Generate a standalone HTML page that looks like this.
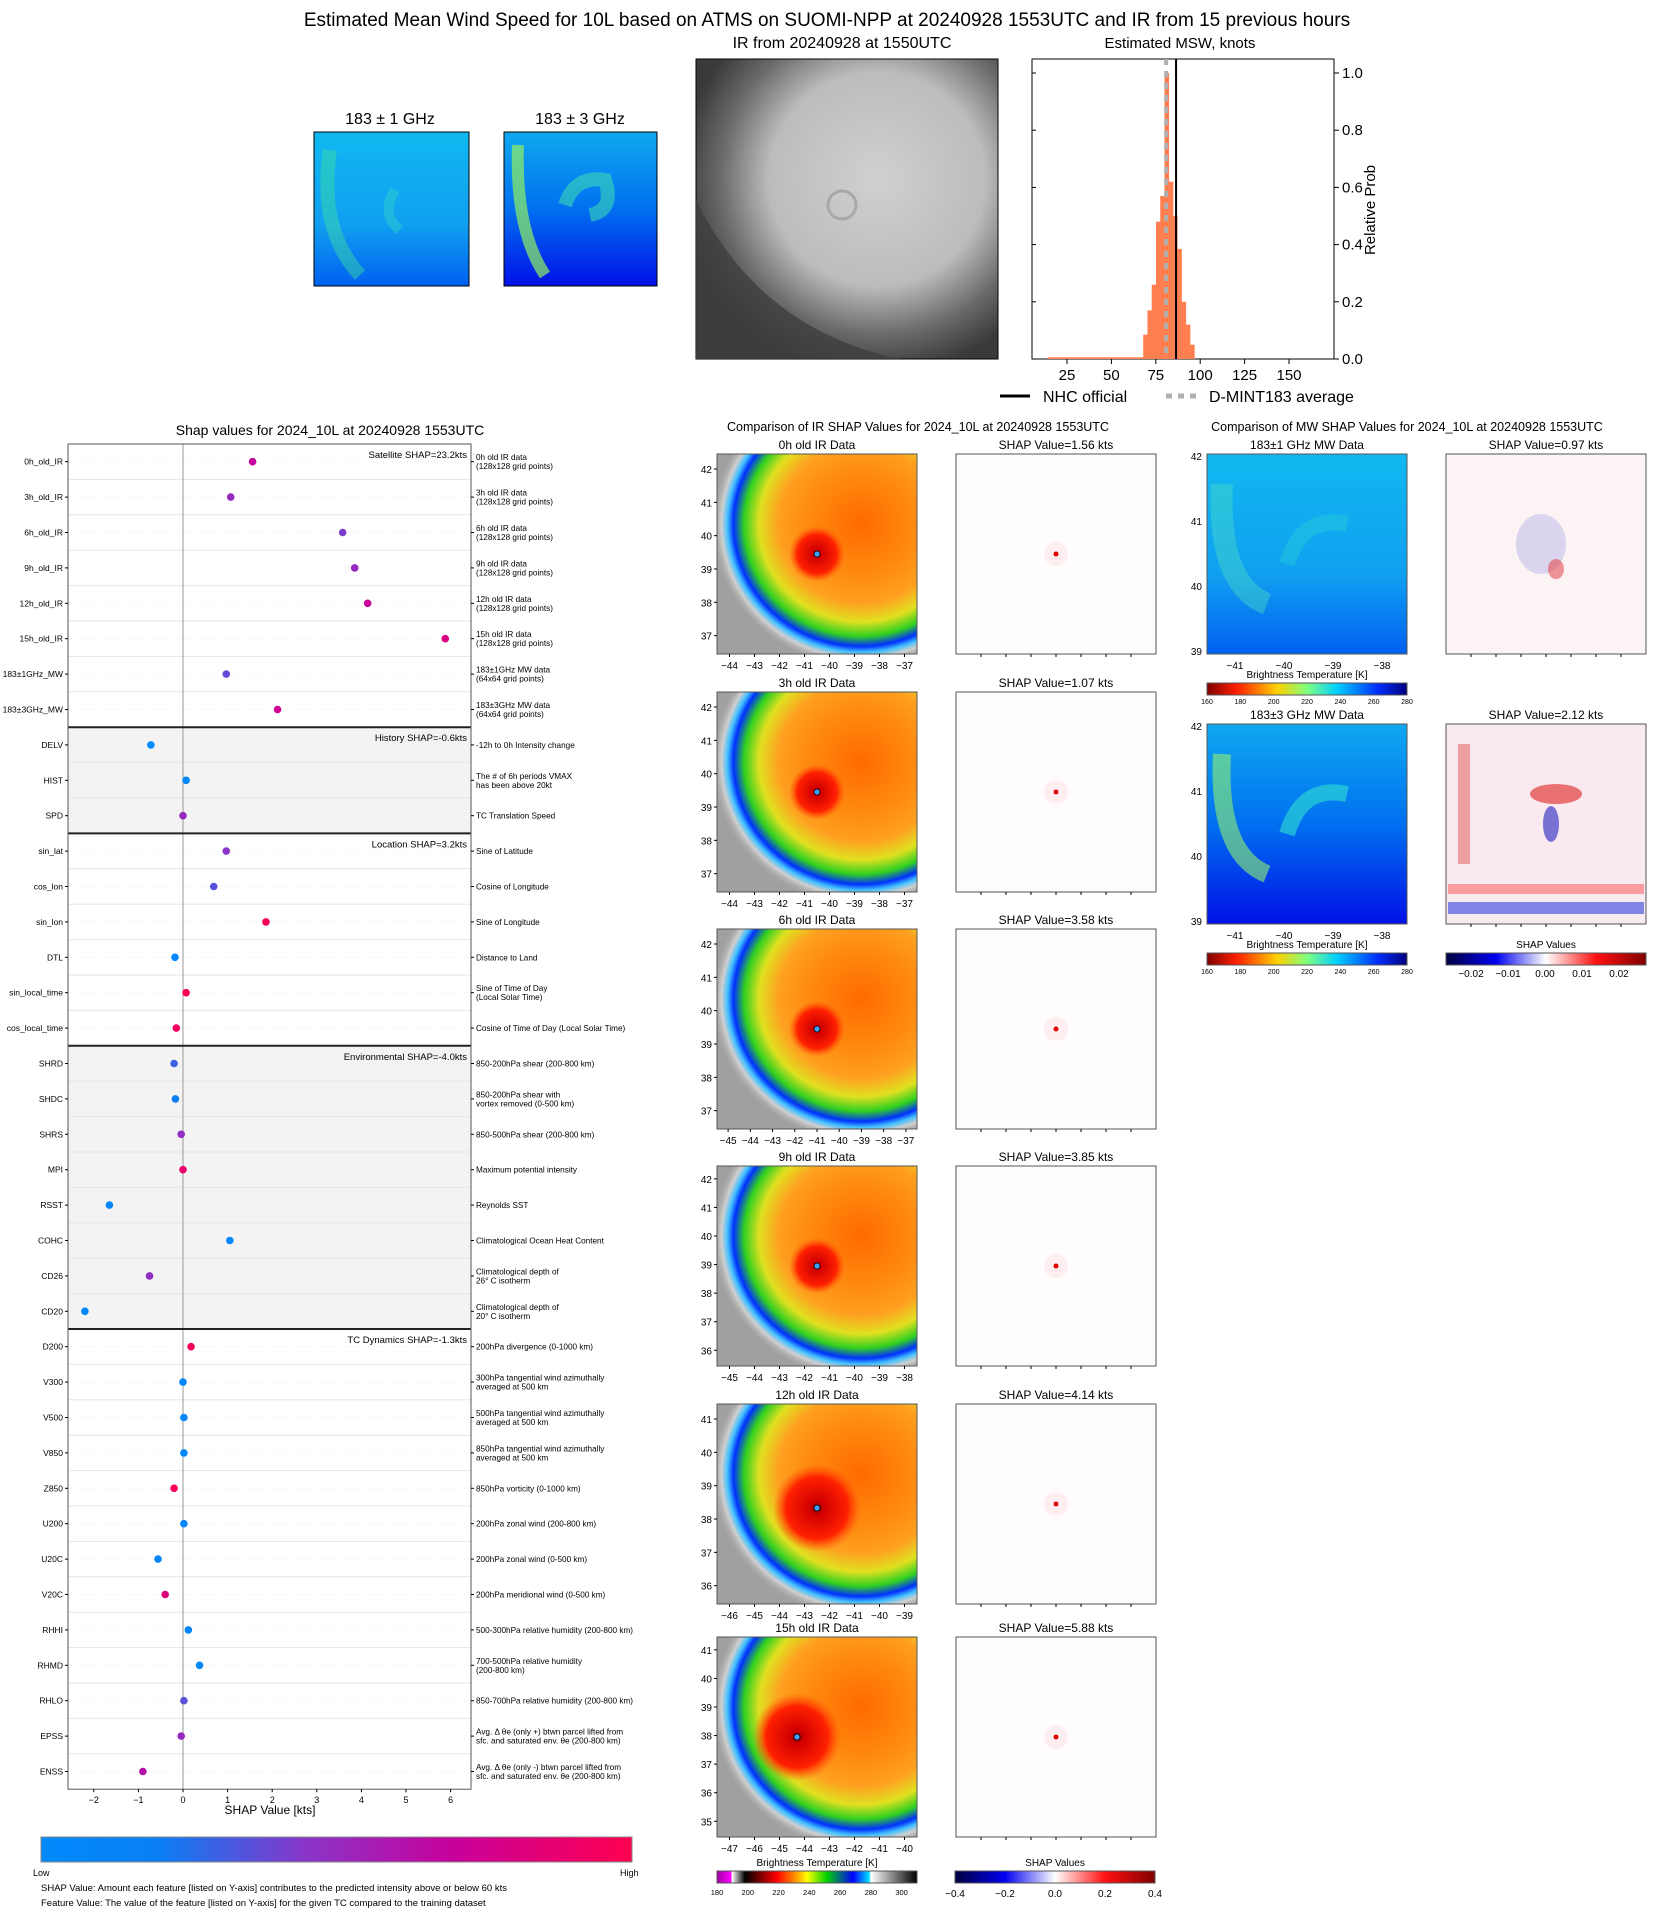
<!DOCTYPE html>
<html><head><meta charset="utf-8"><style>
html,body{margin:0;padding:0;background:#fff;}
svg{display:block;font-family:"Liberation Sans","DejaVu Sans",sans-serif;}
</style></head><body>
<svg id="root" width="1655" height="1912" viewBox="0 0 1655 1912" xmlns="http://www.w3.org/2000/svg">
<defs>
  <radialGradient id="irg" cx="0.5" cy="0.5" r="0.5">
    <stop offset="0" stop-color="#ff6a00"/><stop offset="0.35" stop-color="#ff8a10"/>
    <stop offset="0.55" stop-color="#ffa020"/><stop offset="0.68" stop-color="#e0e020"/>
    <stop offset="0.78" stop-color="#30d020"/><stop offset="0.85" stop-color="#0030ff"/>
    <stop offset="0.89" stop-color="#40c0ff"/><stop offset="0.93" stop-color="#d0d0d0"/>
    <stop offset="1" stop-color="#a0a0a0" stop-opacity="0"/>
  </radialGradient>
  <radialGradient id="core" cx="0.5" cy="0.5" r="0.5">
    <stop offset="0" stop-color="#600000"/><stop offset="0.15" stop-color="#d00000"/>
    <stop offset="0.7" stop-color="#ff2000"/><stop offset="1" stop-color="#ff5000" stop-opacity="0"/>
  </radialGradient>
  <radialGradient id="bigir" cx="0.6" cy="0.4" r="0.65">
    <stop offset="0" stop-color="#d0d0d0"/><stop offset="0.55" stop-color="#bcbcbc"/>
    <stop offset="0.8" stop-color="#6a6a6a"/><stop offset="1" stop-color="#3a3a3a"/>
  </radialGradient>
  <linearGradient id="mw1" x1="0" y1="0" x2="0" y2="1">
    <stop offset="0" stop-color="#10b8f0"/><stop offset="0.6" stop-color="#10a0f0"/><stop offset="1" stop-color="#0060f0"/>
  </linearGradient>
  <linearGradient id="mw3" x1="0" y1="0" x2="0" y2="1">
    <stop offset="0" stop-color="#10a8f0"/><stop offset="0.5" stop-color="#0070f0"/><stop offset="1" stop-color="#0010e8"/>
  </linearGradient>
  <linearGradient id="jet" x1="0" x2="1">
    <stop offset="0" stop-color="#800000"/><stop offset="0.15" stop-color="#ff2000"/><stop offset="0.35" stop-color="#ffd000"/>
    <stop offset="0.5" stop-color="#80ff80"/><stop offset="0.65" stop-color="#00d0ff"/><stop offset="0.85" stop-color="#0030ff"/><stop offset="1" stop-color="#000080"/>
  </linearGradient>
  <linearGradient id="seis" x1="0" x2="1">
    <stop offset="0" stop-color="#000040"/><stop offset="0.25" stop-color="#0000f0"/><stop offset="0.5" stop-color="#ffffff"/>
    <stop offset="0.75" stop-color="#ff1010"/><stop offset="1" stop-color="#800000"/>
  </linearGradient>
  <linearGradient id="irc" x1="0" x2="1">
    <stop offset="0" stop-color="#a000a0"/><stop offset="0.07" stop-color="#ff00ff"/><stop offset="0.075" stop-color="#ffffff"/>
    <stop offset="0.14" stop-color="#000000"/><stop offset="0.3" stop-color="#ff0000"/><stop offset="0.4" stop-color="#ffa000"/>
    <stop offset="0.45" stop-color="#ffff00"/><stop offset="0.55" stop-color="#00d000"/><stop offset="0.68" stop-color="#0000ff"/>
    <stop offset="0.76" stop-color="#00e0ff"/><stop offset="0.77" stop-color="#ffffff"/><stop offset="1" stop-color="#000000"/>
  </linearGradient>
  <linearGradient id="feat" x1="0" x2="1">
    <stop offset="0" stop-color="#008afb"/><stop offset="0.2" stop-color="#0a7ef5"/><stop offset="0.45" stop-color="#8a35c8"/>
    <stop offset="0.7" stop-color="#c8009a"/><stop offset="1" stop-color="#ff0050"/>
  </linearGradient>
</defs>

<text x="827" y="26" font-size="19" text-anchor="middle">Estimated Mean Wind Speed for 10L based on ATMS on SUOMI-NPP at 20240928 1553UTC and IR from 15 previous hours</text>

<g>
<text x="390" y="124" font-size="16" text-anchor="middle">183 ± 1 GHz</text>
<rect x="314" y="132" width="155" height="154" fill="url(#mw1)" stroke="#000"/>
<path d="M330 150 Q318 230 360 275" stroke="#40e0a0" stroke-width="14" fill="none" opacity="0.45"/>
<path d="M395 190 Q380 215 400 230" stroke="#40e0c0" stroke-width="10" fill="none" opacity="0.35"/>
</g>
<g>
<text x="580" y="124" font-size="16" text-anchor="middle">183 ± 3 GHz</text>
<rect x="504" y="132" width="153" height="154" fill="url(#mw3)" stroke="#000"/>
<path d="M518 145 Q515 230 545 275" stroke="#90f060" stroke-width="12" fill="none" opacity="0.7"/>
<path d="M565 205 Q575 175 605 180 Q615 210 590 215" stroke="#40e0b0" stroke-width="14" fill="none" opacity="0.55"/>
</g>
<g>
<text x="842" y="48" font-size="16" text-anchor="middle">IR from 20240928 at 1550UTC</text>
<rect x="696" y="59" width="302" height="300" fill="url(#bigir)" stroke="#000"/>
<path d="M696 200 Q760 330 900 359 L696 359 Z" fill="#3e3e3e" opacity="0.8"/>
<circle cx="842" cy="205" r="14" fill="none" stroke="#a8a8a8" stroke-width="3"/>
</g>

<g id="hist"></g>
<g id="shap"></g>

<text x="918" y="431" font-size="12.5" text-anchor="middle">Comparison of IR SHAP Values for 2024_10L at 20240928 1553UTC</text>
<text x="1407" y="431" font-size="12.5" text-anchor="middle">Comparison of MW SHAP Values for 2024_10L at 20240928 1553UTC</text>
<g id="irpanels"></g>
<g id="mwpanels"></g>
</svg>
<script>
const NS='http://www.w3.org/2000/svg';
function el(tag,attrs,parent,txt){const e=document.createElementNS(NS,tag);for(const k in attrs)e.setAttribute(k,attrs[k]);if(txt!==undefined)e.textContent=txt;parent.appendChild(e);return e;}

/* ---------- histogram data ---------- */
const histBinStart=67.9;
const histBinWidth=2.4;
const histHeights=[0.085,0.17,0.26,0.48,0.57,1.0,0.62,0.5,0.385,0.2,0.12,0.05];
const histTail=[14,67.9,0.006];
const nhcOfficial=86.4;
const dmintAverage=80.8;
const histXTicks=[25,50,75,100,125,150];
const histYTicks=[0,0.2,0.4,0.6,0.8,1.0];

const H=document.getElementById('hist');
const hx=v=>1022.6+v*1.776, hy=p=>359-p*286;
el('text',{x:1180,y:48,'font-size':15,'text-anchor':'middle'},H,'Estimated MSW, knots');
el('rect',{x:1032,y:59,width:302,height:300,fill:'#fff',stroke:'#000'},H);
const tail=el('rect',{x:hx(histTail[0]),y:hy(histTail[2]),width:hx(histTail[1])-hx(histTail[0]),height:359-hy(histTail[2]),fill:'#ff7f50'},H);


histHeights.forEach((h,i)=>{
  const r=el('rect',{x:hx(histBinStart+i*histBinWidth),y:hy(h),width:histBinWidth*1.776+0.3,height:359-hy(h),fill:'#ff7f50'},H);
  
  
});
const avg=el('line',{x1:hx(dmintAverage),x2:hx(dmintAverage),y1:59,y2:359,stroke:'#b0b0b0','stroke-width':4,'stroke-dasharray':'6,6'},H);


const nhc=el('line',{x1:hx(nhcOfficial),x2:hx(nhcOfficial),y1:59,y2:359,stroke:'#000','stroke-width':2},H);


histXTicks.forEach(t=>{el('line',{x1:hx(t),x2:hx(t),y1:359,y2:364,stroke:'#000'},H);
  const tx=el('text',{x:hx(t),y:380,'font-size':15,'text-anchor':'middle'},H,String(t));
  
  });
histYTicks.forEach(t=>{el('line',{x1:1334,x2:1339,y1:hy(t),y2:hy(t),stroke:'#000'},H);
  el('line',{x1:1032,x2:1036,y1:hy(t),y2:hy(t),stroke:'#000'},H);
  const tx=el('text',{x:1342,y:hy(t)+5,'font-size':15},H,t.toFixed(1));
  
  });
el('text',{x:1375,y:210,'font-size':15,'text-anchor':'middle',transform:'rotate(-90 1375 210)'},H,'Relative Prob');
el('line',{x1:1000,x2:1030,y1:396,y2:396,stroke:'#000','stroke-width':3},H);
el('text',{x:1043,y:402,'font-size':16},H,'NHC official');
el('line',{x1:1166,x2:1196,y1:396,y2:396,stroke:'#b0b0b0','stroke-width':5,'stroke-dasharray':'6,6'},H);
el('text',{x:1209,y:402,'font-size':16},H,'D-MINT183 average');

/* ---------- shap data ---------- */
const featNames=['0h_old_IR','3h_old_IR','6h_old_IR','9h_old_IR','12h_old_IR','15h_old_IR','183±1GHz_MW','183±3GHz_MW','DELV','HIST','SPD','sin_lat','cos_lon','sin_lon','DTL','sin_local_time','cos_local_time','SHRD','SHDC','SHRS','MPI','RSST','COHC','CD26','CD20','D200','V300','V500','V850','Z850','U200','U20C','V20C','RHHI','RHMD','RHLO','EPSS','ENSS'];
const shapValues=[1.56,1.07,3.58,3.85,4.14,5.88,0.97,2.12,-0.72,0.07,0.0,0.97,0.69,1.86,-0.18,0.07,-0.15,-0.2,-0.17,-0.04,0.0,-1.65,1.05,-0.75,-2.2,0.18,0.0,0.02,0.02,-0.2,0.02,-0.56,-0.4,0.12,0.37,0.02,-0.04,-0.9];
const featureValues=[0.68,0.5,0.42,0.5,0.7,0.8,0.38,0.75,0.0,0.02,0.5,0.45,0.35,0.95,0.05,1.0,0.95,0.3,0.18,0.48,0.9,0.05,0.08,0.48,0.05,0.95,0.05,0.05,0.05,0.95,0.05,0.12,0.82,0.05,0.05,0.35,0.5,0.62];
const featDesc=[['0h old IR data','(128x128 grid points)'],['3h old IR data','(128x128 grid points)'],['6h old IR data','(128x128 grid points)'],['9h old IR data','(128x128 grid points)'],['12h old IR data','(128x128 grid points)'],['15h old IR data','(128x128 grid points)'],['183±1GHz MW data','(64x64 grid points)'],['183±3GHz MW data','(64x64 grid points)'],['-12h to 0h Intensity change'],['The # of 6h periods VMAX','has been above 20kt'],['TC Translation Speed'],['Sine of Latitude'],['Cosine of Longitude'],['Sine of Longitude'],['Distance to Land'],['Sine of Time of Day','(Local Solar Time)'],['Cosine of Time of Day (Local Solar Time)'],['850-200hPa shear (200-800 km)'],['850-200hPa shear with','vortex removed (0-500 km)'],['850-500hPa shear (200-800 km)'],['Maximum potential intensity'],['Reynolds SST'],['Climatological Ocean Heat Content'],['Climatological depth of','26° C isotherm'],['Climatological depth of','20° C isotherm'],['200hPa divergence (0-1000 km)'],['300hPa tangential wind azimuthally','averaged at 500 km'],['500hPa tangential wind azimuthally','averaged at 500 km'],['850hPa tangential wind azimuthally','averaged at 500 km'],['850hPa vorticity (0-1000 km)'],['200hPa zonal wind (200-800 km)'],['200hPa zonal wind (0-500 km)'],['200hPa meridional wind (0-500 km)'],['500-300hPa relative humidity (200-800 km)'],['700-500hPa relative humidity','(200-800 km)'],['850-700hPa relative humidity (200-800 km)'],['Avg. Δ θe (only +) btwn parcel lifted from','sfc. and saturated env. θe (200-800 km)'],['Avg. Δ θe (only -) btwn parcel lifted from','sfc. and saturated env. θe (200-800 km)']];
const groupStarts=[0,8,11,17,25];
const groupLabels=['Satellite SHAP=23.2kts','History SHAP=-0.6kts','Location SHAP=3.2kts','Environmental SHAP=-4.0kts','TC Dynamics SHAP=-1.3kts'];
const groupShaded=[false,true,false,true,false];
const shapXTicks=[-2,-1,0,1,2,3,4,5,6];

const S=document.getElementById('shap');
const L=68,R=471,T=444,RH=35.4;
const sx=v=>183+v*44.6, ry=i=>T+(i+0.5)*RH;
el('text',{x:330,y:435,'font-size':14,'text-anchor':'middle'},S,'Shap values for 2024_10L at 20240928 1553UTC');
groupStarts.forEach((g,k)=>{
  const end=k<groupStarts.length-1?groupStarts[k+1]:featNames.length;
  const r=el('rect',{x:L,y:T+g*RH,width:R-L,height:(end-g)*RH,fill:groupShaded[k]?'#f3f3f3':'#fff'},S);
  
  
});
featNames.forEach((n,i)=>{
  if(i>0)el('line',{x1:L,x2:R,y1:T+i*RH,y2:T+i*RH,stroke:'#e6e6e6'},S);
  el('line',{x1:L,x2:R,y1:ry(i),y2:ry(i),stroke:'#eee','stroke-dasharray':'1,2'},S);
});
el('line',{x1:sx(0),x2:sx(0),y1:T,y2:T+featNames.length*RH,stroke:'#999','stroke-width':1},S);
groupStarts.forEach((g,k)=>{
  if(g>0)el('line',{x1:L,x2:R,y1:T+g*RH,y2:T+g*RH,stroke:'#222','stroke-width':2},S);
  const t=el('text',{x:R-4,y:T+g*RH+14,'font-size':9.5,'text-anchor':'end'},S,groupLabels[k]);
  
  
});
el('rect',{x:L,y:T,width:R-L,height:featNames.length*RH,fill:'none',stroke:'#555'},S);
function featColor(v){const stops=[[0,[0,138,251]],[0.2,[10,126,245]],[0.45,[138,53,200]],[0.7,[200,0,154]],[1,[255,0,80]]];
  for(let k=1;k<stops.length;k++){if(v<=stops[k][0]){const a=stops[k-1],b=stops[k],t=(v-a[0])/(b[0]-a[0]);
    return 'rgb('+a[1].map((c,j)=>Math.round(c+(b[1][j]-c)*t)).join(',')+')';}}return 'rgb(255,0,80)';}
featNames.forEach((n,i)=>{
  const y=ry(i);
  el('line',{x1:L-3,x2:L,y1:y,y2:y,stroke:'#000'},S);
  el('line',{x1:R,x2:R+3,y1:y,y2:y,stroke:'#000'},S);
  const lb=el('text',{x:L-5,y:y+3,'font-size':8.5,'text-anchor':'end'},S,n);
  
  
  const d=featDesc[i];
  d.forEach((line,j)=>{const t=el('text',{x:R+5,y:y+3+(j-(d.length-1)/2)*9,'font-size':8.2},S,line);
    
    });
  const c=el('circle',{cx:sx(shapValues[i]),cy:y,r:3.8,fill:featColor(featureValues[i])},S);
  
  
});
const yb=T+featNames.length*RH;
shapXTicks.forEach(t=>{el('line',{x1:sx(t),x2:sx(t),y1:yb,y2:yb+3,stroke:'#000'},S);
  const tx=el('text',{x:sx(t),y:yb+14,'font-size':9,'text-anchor':'middle'},S,t<0?'−'+(-t):String(t));
  
  });
el('text',{x:270,y:1814,'font-size':12,'text-anchor':'middle'},S,'SHAP Value [kts]');
el('rect',{x:41,y:1837,width:591,height:25,fill:'url(#feat)',stroke:'#888'},S);
el('text',{x:33,y:1876,'font-size':9},S,'Low');
el('text',{x:620,y:1876,'font-size':9},S,'High');
el('text',{x:41,y:1891,'font-size':9.5},S,'SHAP Value: Amount each feature [listed on Y-axis] contributes to the predicted intensity above or below 60 kts');
el('text',{x:41,y:1906,'font-size':9.5},S,'Feature Value: The value of the feature [listed on Y-axis] for the given TC compared to the training dataset');

/* ---------- IR comparison panels ---------- */
const irTitles=['0h old IR Data','3h old IR Data','6h old IR Data','9h old IR Data','12h old IR Data','15h old IR Data'];
const irShap=['1.56','1.07','3.58','3.85','4.14','5.88'];
const irTops=[454,692,929,1166,1404,1637];
const irXTicks=[[-44,-43,-42,-41,-40,-39,-38,-37],[-44,-43,-42,-41,-40,-39,-38,-37],[-45,-44,-43,-42,-41,-40,-39,-38,-37],[-45,-44,-43,-42,-41,-40,-39,-38],[-46,-45,-44,-43,-42,-41,-40,-39],[-47,-46,-45,-44,-43,-42,-41,-40]];
const irYTicks=[[42,41,40,39,38,37],[42,41,40,39,38,37],[42,41,40,39,38,37],[42,41,40,39,38,37,36],[41,40,39,38,37,36],[41,40,39,38,37,36,35]];
const eyeX=[0.5,0.5,0.5,0.5,0.5,0.4], eyeY=[0.5,0.5,0.5,0.5,0.52,0.5];
const P=document.getElementById('irpanels');
const W=200;
irTitles.forEach((t,i)=>{
  const y=irTops[i], x=717;
  const g=el('g',{},P);
  
  
  el('text',{x:x+W/2,y:y-5,'font-size':12,'text-anchor':'middle'},g,t);
  el('clipPath',{id:'cp'+i},g); el('rect',{x:x,y:y,width:W,height:W},g.lastChild);
  const cg=el('g',{'clip-path':'url(#cp'+i+')'},g);
  el('rect',{x:x,y:y,width:W,height:W,fill:'#a0a0a0'},cg);
  el('ellipse',{cx:x+W*0.72,cy:y+W*0.35,rx:W*0.75,ry:W*0.72,fill:'url(#irg)'},cg);
  el('circle',{cx:x+W*eyeX[i],cy:y+W*eyeY[i],r:W*(i>=4?0.22:0.14),fill:'url(#core)'},cg);
  el('circle',{cx:x+W*eyeX[i],cy:y+W*eyeY[i],r:3,fill:'#40a0ff',stroke:'#000','stroke-width':0.8},cg);
  el('rect',{x:x,y:y,width:W,height:W,fill:'none',stroke:'#555'},g);
  const yt=irYTicks[i];
  yt.forEach((v,j)=>{const yy=y+W*(j+0.45)/yt.length;
    el('line',{x1:x-3,x2:x,y1:yy,y2:yy,stroke:'#000'},g);
    el('text',{x:x-5,y:yy+4,'font-size':10,'text-anchor':'end'},g,String(v));});
  const xt=irXTicks[i];
  xt.forEach((v,j)=>{const xx=x+W*(j+0.5)/xt.length;
    el('line',{x1:xx,x2:xx,y1:y+W,y2:y+W+3,stroke:'#000'},g);
    el('text',{x:xx,y:y+W+15,'font-size':10,'text-anchor':'middle'},g,'−'+(-v));});
  const sx0=956;
  el('text',{x:sx0+W/2,y:y-5,'font-size':12,'text-anchor':'middle'},g,'SHAP Value='+irShap[i]+' kts');
  el('rect',{x:sx0,y:y,width:W,height:W,fill:'#fffcfd',stroke:'#555'},g);
  el('circle',{cx:sx0+W*0.5,cy:y+W*0.5,r:12,fill:'#ffe8ea',opacity:0.7},g);
  el('circle',{cx:sx0+W*0.5,cy:y+W*0.5,r:2.5,fill:'#e00000'},g);
  for(let k=1;k<8;k++)el('line',{x1:sx0+k*W/8,x2:sx0+k*W/8,y1:y+W,y2:y+W+3,stroke:'#000'},g);
});
const bc=el('g',{},P);


el('text',{x:817,y:1866,'font-size':10,'text-anchor':'middle'},bc,'Brightness Temperature [K]');
el('rect',{x:717,y:1871,width:200,height:12,fill:'url(#irc)',stroke:'#555'},bc);
[180,200,220,240,260,280,300].forEach((v,j)=>el('text',{x:717+(v-180)/130*200,y:1895,'font-size':7.5,'text-anchor':'middle'},bc,String(v)));
el('text',{x:1055,y:1866,'font-size':10,'text-anchor':'middle'},bc,'SHAP Values');
el('rect',{x:955,y:1871,width:200,height:12,fill:'url(#seis)',stroke:'#555'},bc);
['−0.4','−0.2','0.0','0.2','0.4'].forEach((v,j)=>el('text',{x:955+j*50,y:1897,'font-size':10,'text-anchor':'middle'},bc,v));

/* ---------- MW panels ---------- */
const mwTitles=['183±1 GHz MW Data','183±3 GHz MW Data'];
const mwShap=['0.97','2.12'];
const mwTops=[454,724];
const M=document.getElementById('mwpanels');
mwTitles.forEach((t,i)=>{
  const y=mwTops[i],x=1207;
  const g=el('g',{},M);
  
  
  el('text',{x:x+W/2,y:y-5,'font-size':12,'text-anchor':'middle'},g,t);
  el('rect',{x:x,y:y,width:W,height:W,fill:i?'url(#mw3)':'url(#mw1)'},g);
  el('path',{d:`M${x+15} ${y+30} Q${x+10} ${y+130} ${x+60} ${y+150}`,stroke:i?'#90f070':'#50e0c0','stroke-width':i?18:22,fill:'none',opacity:i?0.6:0.4},g);
  el('path',{d:`M${x+80} ${y+110} Q${x+95} ${y+60} ${x+140} ${y+70}`,stroke:'#30e0d0','stroke-width':16,fill:'none',opacity:i?0.6:0.3},g);
  el('rect',{x:x,y:y,width:W,height:W,fill:'none',stroke:'#555'},g);
  [42,41,40,39].forEach((v,j)=>{const yy=y+2+j*65;el('text',{x:x-5,y:yy+4,'font-size':10,'text-anchor':'end'},g,String(v));});
  ['−41','−40','−39','−38'].forEach((v,j)=>el('text',{x:x+28+j*49,y:y+W+15,'font-size':10,'text-anchor':'middle'},g,v));
  el('text',{x:x+W/2,y:y+W+24,'font-size':10,'text-anchor':'middle'},g,'Brightness Temperature [K]');
  el('rect',{x:x,y:y+W+29,width:W,height:12,fill:'url(#jet)',stroke:'#555'},g);
  [160,180,200,220,240,260,280].forEach((v,j)=>el('text',{x:x+j*W/6,y:y+W+50,'font-size':7,'text-anchor':'middle'},g,String(v)));
  const sx0=1446;
  el('text',{x:sx0+W/2,y:y-5,'font-size':12,'text-anchor':'middle'},g,'SHAP Value='+mwShap[i]+' kts');
  el('rect',{x:sx0,y:y,width:W,height:W,fill:i?'#f8eaee':'#fcf3f4',stroke:'#555'},g);
  if(i){
    el('rect',{x:sx0+2,y:y+178,width:W-4,height:12,fill:'#3040e0',opacity:0.6},g);
    el('rect',{x:sx0+2,y:y+160,width:W-4,height:10,fill:'#ff4040',opacity:0.45},g);
    el('rect',{x:sx0+12,y:y+20,width:12,height:120,fill:'#e03030',opacity:0.4},g);
    el('ellipse',{cx:sx0+110,cy:y+70,rx:26,ry:10,fill:'#e02020',opacity:0.6},g);
    el('ellipse',{cx:sx0+105,cy:y+100,rx:8,ry:18,fill:'#2020c0',opacity:0.6},g);
  }else{
    el('ellipse',{cx:sx0+95,cy:y+90,rx:25,ry:30,fill:'#9090e0',opacity:0.3},g);
    el('ellipse',{cx:sx0+110,cy:y+115,rx:8,ry:10,fill:'#e03030',opacity:0.5},g);
  }
  for(let k=1;k<8;k++)el('line',{x1:sx0+k*W/8,x2:sx0+k*W/8,y1:y+W,y2:y+W+3,stroke:'#000'},g);
});
const sc=el('g',{},M);


el('text',{x:1546,y:948,'font-size':10,'text-anchor':'middle'},sc,'SHAP Values');
el('rect',{x:1446,y:953,width:200,height:12,fill:'url(#seis)',stroke:'#555'},sc);
['−0.02','−0.01','0.00','0.01','0.02'].forEach((v,j)=>el('text',{x:1471+j*37,y:977,'font-size':10,'text-anchor':'middle'},sc,v));
</script>
</body></html>
